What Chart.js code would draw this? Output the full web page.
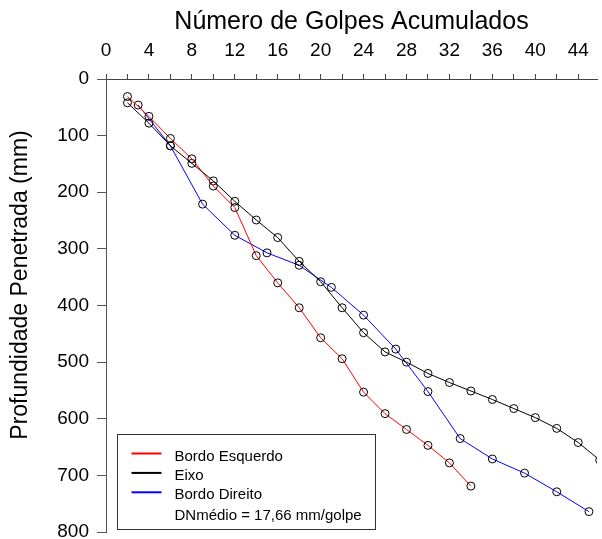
<!DOCTYPE html>
<html>
<head>
<meta charset="utf-8">
<script src="https://cdn.jsdelivr.net/npm/chart.js@4/dist/chart.umd.min.js"></script>
<style>
  html, body { margin: 0; padding: 0; background: #fff; }
</style>
</head>
<body>
<canvas id="dcp-chart" width="602" height="539"></canvas>
<script>
// ── Data ──────────────────────────────────────────────────────────────────────

const golpesEsquerdo = [2, 4, 6, 8, 10, 12, 14, 16, 18, 20, 22, 24, 26, 28, 30, 32, 34];
const profEsquerdo   = [31, 66, 105, 141, 189, 227, 312, 360, 404, 457, 494, 553, 591, 619, 647, 678, 719];

const golpesEixo = [2, 4, 6, 8, 10, 12, 14, 16, 18, 20, 22, 24, 26, 28, 30, 32, 34, 36, 38, 40, 42, 44, 46];
const profEixo   = [42, 78, 118, 149, 180, 216, 249, 280, 322, 358, 404, 448, 482, 500, 520, 536, 551, 566, 582, 598, 617, 642, 673];

const golpesDireito = [3, 6, 9, 12, 15, 18, 21, 24, 27, 30, 33, 36, 39, 42, 45];
const profDireito   = [46, 118, 221, 276, 307, 329, 368, 417, 477, 552, 635, 671, 696, 729, 764];

const xTickLabels = [0, 4, 8, 12, 16, 20, 24, 28, 32, 36, 40, 44];
const dnMedio = "DNmédio = 17,66 mm/golpe";

// ── Chart ─────────────────────────────────────────────────────────────────────

const FONT = "'Liberation Sans', Arial, Helvetica, sans-serif";
Chart.defaults.font.family = FONT;
Chart.defaults.color = "#000";

const toPoints = (xs, ys) => xs.map((x, i) => ({ x, y: ys[i] }));

function series(label, color, xs, ys) {
  return {
    label,
    data: toPoints(xs, ys),
    borderColor: color,
    borderWidth: 1,
    pointRadius: 4,
    pointHoverRadius: 4,
    pointBorderColor: "#000",
    pointBackgroundColor: "rgba(0,0,0,0)",
    pointBorderWidth: 1,
    tension: 0,
    fill: false,
  };
}

// legend box in the lower left corner, plus the off-centre y title
const extras = {
  id: "extras",
  afterDraw(chart) {
    const ctx = chart.ctx;
    const { left, bottom } = chart.chartArea;
    ctx.save();

    // y axis title
    ctx.font = `23px ${FONT}`;
    ctx.fillStyle = "#000";
    ctx.textAlign = "center";
    ctx.textBaseline = "alphabetic";
    ctx.translate(26.5, 285);
    ctx.rotate(-Math.PI / 2);
    ctx.fillText("Profundidade Penetrada (mm)", 0, 0);
    ctx.setTransform(1, 0, 0, 1, 0, 0);

    // legend
    const bx = left + 11.5, by = bottom - 97.5, bw = 258, bh = 95;
    ctx.fillStyle = "#fff";
    ctx.fillRect(bx, by, bw, bh);
    ctx.strokeStyle = "#333";
    ctx.lineWidth = 1;
    ctx.strokeRect(bx, by, bw, bh);

    ctx.font = `15px ${FONT}`;
    ctx.textAlign = "left";
    ctx.fillStyle = "#000";
    const rows = chart.data.datasets.map(d => ({ text: d.label, color: d.borderColor }));
    rows.push({ text: dnMedio, color: null });
    rows.forEach((r, i) => {
      const base = by + 26 + i * 19.4 + (i === 3 ? 1 : 0);
      if (r.color) {
        ctx.strokeStyle = r.color;
        ctx.lineWidth = 2;
        ctx.beginPath();
        ctx.moveTo(bx + 14, base - 7);
        ctx.lineTo(bx + 44, base - 7);
        ctx.stroke();
      }
      ctx.fillText(r.text, bx + 57, base);
    });
    ctx.restore();
  },
};

const ctx = document.getElementById("dcp-chart").getContext("2d");
new Chart(ctx, {
  type: "line",
  data: {
    datasets: [
      series("Bordo Esquerdo", "#ff0000", golpesEsquerdo, profEsquerdo),
      series("Eixo", "#000000", golpesEixo, profEixo),
      series("Bordo Direito", "#0000ff", golpesDireito, profDireito),
    ],
  },
  options: {
    responsive: false,
    animation: false,
    layout: { padding: { left: 0, top: 0, right: 0, bottom: 7 } },
    plugins: { legend: { display: false }, tooltip: { enabled: false } },
    scales: {
      x: {
        type: "linear",
        position: "top",
        min: 0,
        max: 45.75,
        afterFit: s => { s.height = 79; },
        border: { display: true, color: "#444", width: 1 },
        grid: { drawOnChartArea: false, drawTicks: true, tickLength: 5, color: "#444" },
        ticks: {
          stepSize: 2,
          includeBounds: false,
          autoSkip: false,
          maxRotation: 0,
          minRotation: 0,
          padding: 12,
          font: { size: 19 },
          callback: v => xTickLabels.includes(v) ? String(v) : "",
        },
        title: {
          display: true,
          text: "Número de Golpes Acumulados",
          font: { size: 25 },
          padding: { top: 7, bottom: 2 },
        },
      },
      y: {
        type: "linear",
        position: "left",
        reverse: true,
        min: 0,
        max: 800,
        afterFit: s => { s.width = 106; s.paddingBottom = 0; },
        border: { display: true, color: "#555", width: 1 },
        grid: { drawOnChartArea: false, drawTicks: true, tickLength: 9, color: "#555" },
        ticks: { stepSize: 100, padding: 8, font: { size: 19 } },
      },
    },
  },
  plugins: [extras],
});
</script>
</body>
</html>
